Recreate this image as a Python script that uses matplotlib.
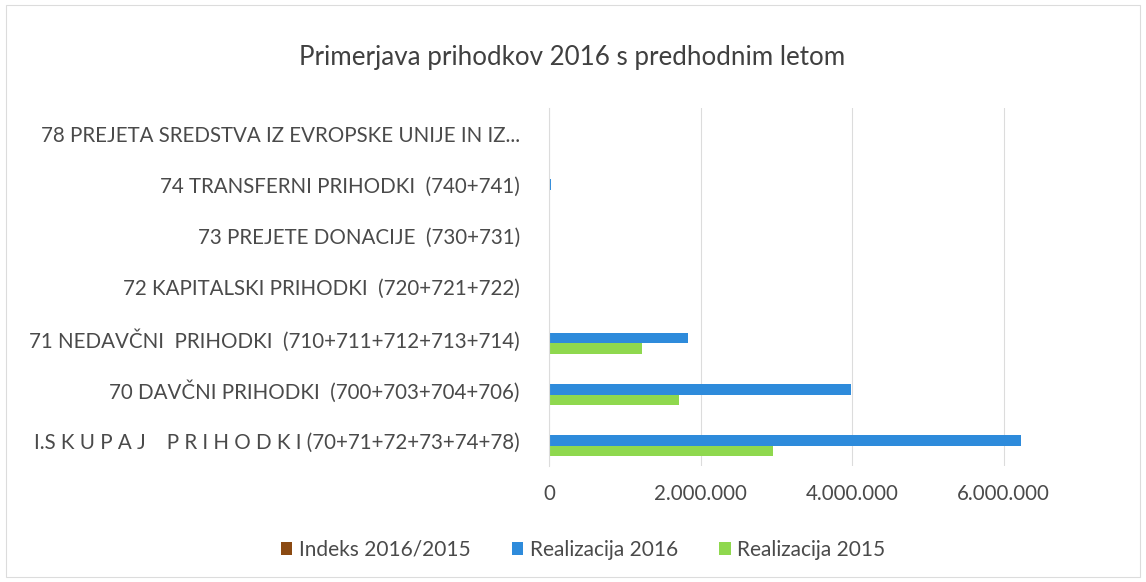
import numpy as np
import matplotlib
matplotlib.use("Agg")
import matplotlib.pyplot as plt
from matplotlib.patches import Rectangle

# data (bottom -> top)
categories = [
    "I.S K U P A J    P R I H O D K I (70+71+72+73+74+78)",
    "70 DAVČNI PRIHODKI  (700+703+704+706)",
    "71 NEDAVČNI  PRIHODKI  (710+711+712+713+714)",
    "72 KAPITALSKI PRIHODKI  (720+721+722)",
    "73 PREJETE DONACIJE  (730+731)",
    "74 TRANSFERNI PRIHODKI  (740+741)",
    "78 PREJETA SREDSTVA IZ EVROPSKE UNIJE IN IZ...",
]
indeks = [211, 232, 149, 0, 0, 0, 0]
real_2016 = [6230000, 3990000, 1830000, 0, 0, 20000, 0]
real_2015 = [2960000, 1720000, 1230000, 0, 0, 0, 0]
xticks = [0, 2000000, 4000000, 6000000]

plt.rcParams['font.family'] = ['Lato', 'DejaVu Sans']
txt = '#4a4a4a'

fig = plt.figure(figsize=(11.46, 5.82), dpi=100)
ax = fig.add_axes([549/1146, 1 - 466/582, (1021-549)/1146, (466-108)/582])

y = np.arange(len(categories))
h = 0.205
ax.barh(y + h, indeks, height=h, color='#8B4A12', label='Indeks 2016/2015')
ax.barh(y, real_2016, height=h, color='#2E8BDB', label='Realizacija 2016')
ax.barh(y - h, real_2015, height=h, color='#8FD84E', label='Realizacija 2015')

ax.set_xlim(0, 6230000)
ax.set_ylim(-0.5, len(categories) - 0.5)
ax.set_xticks(xticks)
ax.set_xticklabels(['{:,}'.format(v).replace(',', '.') for v in xticks])
ax.set_yticks(y)
ax.set_yticklabels(categories)
ax.tick_params(axis='both', length=0, labelsize=14.8, colors=txt)
ax.tick_params(axis='y', pad=21)
ax.tick_params(axis='x', pad=13)
ax.grid(axis='x', color='#dcdcdc', linewidth=0.8)
ax.set_axisbelow(True)
for s in ['top', 'right', 'bottom']:
    ax.spines[s].set_visible(False)
ax.spines['left'].set_color('#dcdcdc')

fig.text(572/1146, 1 - 57/582, 'Primerjava prihodkov 2016 s predhodnim letom',
         ha='center', va='center', fontsize=18.7, color='#404040')

handles, labels = ax.get_legend_handles_labels()
fig.legend(handles, labels, loc='center', bbox_to_anchor=(583/1146, 1 - 550/582),
           ncol=3, frameon=False, fontsize=15, labelcolor=txt,
           handlelength=0.55, handleheight=0.55, handletextpad=0.3, columnspacing=2.0)

fig.patches.append(Rectangle((6/1146, 5/582), 1134/1146, 572/582, transform=fig.transFigure,
                             fill=False, edgecolor='#dcdcdc', linewidth=0.8))

fig.savefig('out.png', dpi=100)
